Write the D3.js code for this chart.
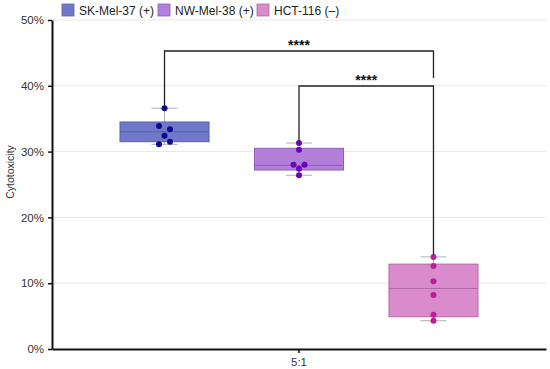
<!DOCTYPE html>
<html><head><meta charset="utf-8">
<script src="https://cdn.jsdelivr.net/npm/d3@7"></script>
<style>body{margin:0;background:#fff}svg{display:block}text{font-family:"Liberation Sans",Arial,sans-serif}</style>
</head><body><svg id="c" width="550" height="369"></svg>
<script>
const groups = ["SK-Mel-37 (+)", "NW-Mel-38 (+)", "HCT-116 (–)"];
const xCategory = ["5:1"];
const yTicks = [0, 10, 20, 30, 40, 50];
// box stats: [whiskerLow, q1, median, q3, whiskerHigh] in %
const boxStats = [
  [31.1, 31.5, 33.0, 34.5, 36.6],
  [26.4, 27.2, 27.9, 30.5, 31.3],
  [4.3, 4.9, 9.2, 12.9, 14.0]
];
// individual replicate points (%)
const points = [
  [36.6, 33.9, 33.4, 32.4, 31.5, 31.1],
  [31.3, 30.3, 28.0, 28.0, 27.4, 26.4],
  [14.0, 12.6, 10.3, 8.2, 5.2, 4.3]
];
const jitter = [[0,-1,1,0,1,-1],[0,0,-1,1,0,0],[0,0,0,0,0,0]];
const fills = ["#7079c9", "#b47fdb", "#da8bcb"];
const strokes = ["#5a61a8", "#8e5fb4", "#b06aa3"];
const dotColors = ["#0b0b8c", "#6a06b6", "#b81f9d"];
const sig = [{a:0,b:2,label:"****"},{a:1,b:2,label:"****"}];

const svg = d3.select("#c");
const mLeft = 52, mRight = 546, mTop = 20, mBottom = 349;
const y = d3.scaleLinear().domain([0, 50]).range([mBottom, mTop]);
const x0 = d3.scaleBand().domain(xCategory).range([mLeft, mRight]);
const x1 = d3.scaleBand().domain(groups).range([x0("5:1") + 68, x0("5:1") + x0.bandwidth() - 68]).paddingInner(0.338);
const cx = i => x1(groups[i]) + x1.bandwidth() / 2;

// grid
svg.append("g").selectAll("line").data(yTicks.filter(d => d > 0)).join("line")
  .attr("x1", mLeft).attr("x2", mRight).attr("y1", d => y(d)).attr("y2", d => y(d))
  .attr("stroke", "#e8e8e8").attr("stroke-width", 1);

// boxes
groups.forEach((g, i) => {
  const s = boxStats[i], c = cx(i), bw = x1.bandwidth();
  const gg = svg.append("g");
  gg.append("line").attr("x1", c).attr("x2", c).attr("y1", y(s[0])).attr("y2", y(s[4])).attr("stroke", "#b0b0b0");
  [s[0], s[4]].forEach(v => gg.append("line").attr("x1", c - 13).attr("x2", c + 13).attr("y1", y(v)).attr("y2", y(v)).attr("stroke", "#b0b0b0"));
  gg.append("rect").attr("x", x1(g)).attr("width", bw).attr("y", y(s[3])).attr("height", y(s[1]) - y(s[3]))
    .attr("fill", fills[i]).attr("stroke", strokes[i]).attr("stroke-width", 1);
  gg.append("line").attr("x1", x1(g)).attr("x2", x1(g) + bw).attr("y1", y(s[2])).attr("y2", y(s[2])).attr("stroke", strokes[i]);
  gg.selectAll("circle").data(points[i]).join("circle")
    .attr("cx", (d, j) => c + jitter[i][j] * 5.5).attr("cy", d => y(d)).attr("r", 3)
    .attr("fill", dotColors[i]);
});

// significance brackets
const b1y = 51, b2y = 86;
function bracket(a, b, yy, leftEnd, rightEnd) {
  const p = d3.path();
  p.moveTo(cx(a), leftEnd); p.lineTo(cx(a), yy); p.lineTo(cx(b), yy); p.lineTo(cx(b), rightEnd);
  svg.append("path").attr("d", p.toString()).attr("fill", "none").attr("stroke", "#222").attr("stroke-width", 1.3);
}
bracket(sig[0].a, sig[0].b, b1y, y(boxStats[0][4]) - 2, b2y - 8);
bracket(sig[1].a, sig[1].b, b2y, y(boxStats[1][4]) - 2, y(boxStats[2][4]) - 2);
svg.append("text").attr("x", (cx(sig[0].a) + cx(sig[0].b)) / 2).attr("y", b1y - 1).attr("text-anchor", "middle")
  .attr("font-size", 14).attr("font-weight", "bold").attr("fill", "#111").text(sig[0].label);
svg.append("text").attr("x", (cx(sig[1].a) + cx(sig[1].b)) / 2).attr("y", b2y - 1).attr("text-anchor", "middle")
  .attr("font-size", 14).attr("font-weight", "bold").attr("fill", "#111").text(sig[1].label);

// axes
const yAxis = svg.append("g").attr("transform", `translate(${mLeft},0)`)
  .call(d3.axisLeft(y).tickValues(yTicks).tickFormat(d => d + "%").tickSize(4).tickSizeOuter(0));
const xAxis = svg.append("g").attr("transform", `translate(0,${mBottom})`)
  .call(d3.axisBottom(x0).tickSize(4).tickSizeOuter(0));
[yAxis, xAxis].forEach(a => {
  a.select(".domain").attr("stroke", "#111").attr("stroke-width", 2);
  a.selectAll(".tick line").attr("stroke", "#111").attr("stroke-width", 1.5);
  a.selectAll("text").attr("font-size", 11.5).attr("fill", "#333").attr("font-family", '"Liberation Sans",Arial,sans-serif');
});
yAxis.selectAll("text").attr("dx", "-1");
xAxis.selectAll("text").attr("dy", "0.9em");

svg.append("text").attr("transform", `translate(14,172) rotate(-90)`)
  .attr("text-anchor", "middle").attr("font-size", 10.5).attr("fill", "#333").text("Cytotoxicity");

// legend
const legX = [62, 158, 257];
groups.forEach((g, i) => {
  svg.append("rect").attr("x", legX[i]).attr("y", 4).attr("width", 12).attr("height", 12)
    .attr("fill", fills[i]).attr("stroke", strokes[i]).attr("stroke-width", 0.8);
  svg.append("text").attr("x", legX[i] + 17).attr("y", 15).attr("font-size", 12).attr("fill", "#222").text(g);
});
</script></body></html>
